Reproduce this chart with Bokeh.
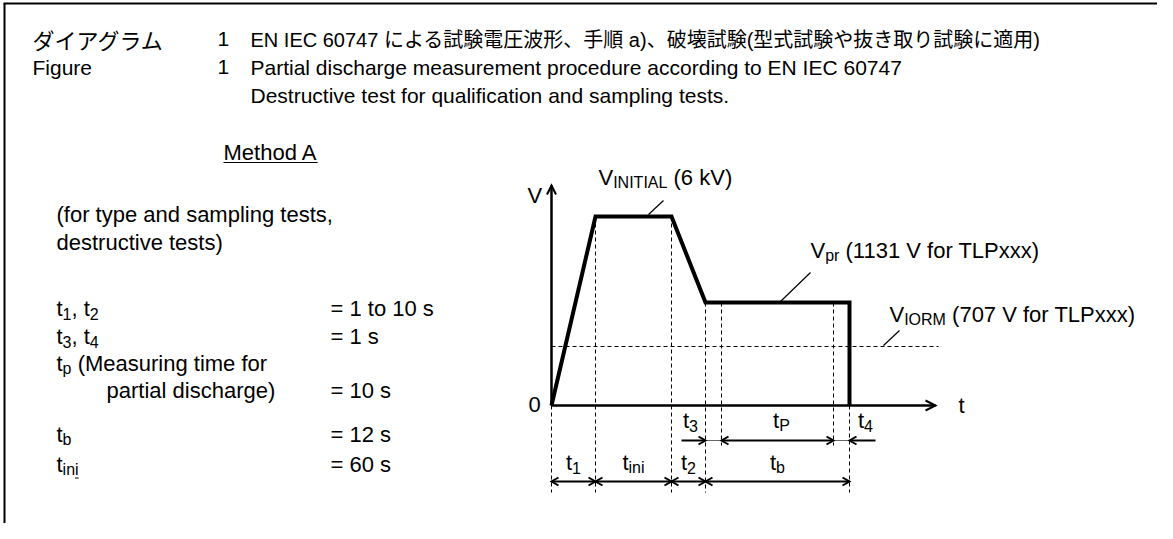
import numpy as np
from bokeh.plotting import figure
from bokeh.models import Range1d
from bokeh.core.properties import value
from bokeh.embed import file_html
from bokeh.resources import INLINE

# ---------------- data (texts and schematic values) ----------------
header_jp_label = "ダイアグラム"
header_en_label = "Figure"
figure_number = "1"
title_jp = "EN IEC 60747 による試験電圧波形、手順 a)、破壊試験(型式試験や抜き取り試験に適用)"
title_en = "Partial discharge measurement procedure according to EN IEC 60747"
subtitle_en = "Destructive test for qualification and sampling tests."
method_label = "Method A"
method_note = ["(for type and sampling tests,", "destructive tests)"]

# parameter list: label runs (text, is_subscript) and values
param_runs = [
    [("t", 0), ("1", 1), (", t", 0), ("2", 1)],
    [("t", 0), ("3", 1), (", t", 0), ("4", 1)],
    [("t", 0), ("p", 1), (" (Measuring time for", 0)],
    [("partial discharge)", 0)],
    [("t", 0), ("b", 1)],
    [("t", 0), ("ini", 1)],
]
param_values = ["= 1 to 10 s", "= 1 s", "", "= 10 s", "= 12 s", "= 60 s"]

# schematic waveform: phase durations and voltage levels as drawn (diagram units)
phase_names = ["t1", "tini", "t2", "t3", "tp", "t4"]
phase_durations = [44, 76, 34, 16, 112, 16]
level_names = ["V_INITIAL", "V_pr", "V_IORM"]
level_values = [189, 103, 59]
level_label_runs = [
    [("V", 0), ("INITIAL", 1), (" (6 kV)", 0)],
    [("V", 0), ("pr", 1), (" (1131 V for TLPxxx)", 0)],
    [("V", 0), ("IORM", 1), (" (707 V for TLPxxx)", 0)],
]
phase_label_runs = {
    "t1": [("t", 0), ("1", 1)],
    "tini": [("t", 0), ("ini", 1)],
    "t2": [("t", 0), ("2", 1)],
    "t3": [("t", 0), ("3", 1)],
    "tp": [("t", 0), ("P", 1)],
    "t4": [("t", 0), ("4", 1)],
    "tb": [("t", 0), ("b", 1)],
}

# ---------------- layout helpers ----------------
LATIN = "Liberation Sans"
CJK = "Noto Sans CJK JP"
MIXED = "Liberation Sans, Noto Sans CJK JP"
HEAD = 21
SIZE = 22
SUB = 16
DROP = 3

ORIGIN = (551, 405)  # where the diagram origin sits in the picture (px)
WIDTH, HEIGHT = 1157, 523


def S(sx, sy):
    return sx - ORIGIN[0], ORIGIN[1] - sy


W = {' ': 278, '(': 333, ')': 333, ',': 278, '.': 278, '=': 584, '-': 333}
for ch in "0123456789":
    W[ch] = 556
W.update(dict(zip("ABCDEFGHIJKLMNOPQRSTUVWXYZ",
                  [667, 667, 722, 722, 667, 611, 778, 722, 278, 500, 667, 556, 833,
                   722, 778, 667, 778, 722, 667, 611, 722, 667, 944, 667, 667, 611])))
W.update(dict(zip("abcdefghijklmnopqrstuvwxyz",
                  [556, 556, 500, 556, 556, 278, 556, 556, 222, 222, 500, 222, 833,
                   556, 556, 556, 556, 333, 500, 278, 556, 500, 722, 500, 500, 500])))


def tw(s, size):
    return sum(W.get(c, 556) for c in s) * size / 1000.0


def runs_width(runs, size=SIZE, sub=SUB):
    return sum(tw(t, sub if s else size) for t, s in runs)


p = figure(width=WIDTH, height=HEIGHT, output_backend="svg", toolbar_location=None,
           x_range=Range1d(0 - ORIGIN[0], WIDTH - ORIGIN[0]),
           y_range=Range1d(ORIGIN[1] - HEIGHT, ORIGIN[1] - 0),
           x_axis_type=None, y_axis_type=None, min_border=0,
           min_border_left=0, min_border_right=0, min_border_top=0, min_border_bottom=0)
p.xgrid.visible = False
p.ygrid.visible = False
p.outline_line_color = None
p.background_fill_color = "white"
p.border_fill_color = "white"


def put(x, y, s, size=SIZE, font=LATIN, align="left"):
    """x, y: data coords of the left end of the text baseline."""
    p.text(x=[x], y=[y + 0.35 * size], text=[s], text_font=value(font),
           text_font_size=f"{size}px", text_baseline="middle", text_align=align,
           text_color="black")


def put_runs(x, y, runs, size=SIZE, sub=SUB):
    for t, is_sub in runs:
        fs = sub if is_sub else size
        body = t.lstrip(" ")
        x += tw(t[:len(t) - len(body)], fs)
        put(x, y - (DROP if is_sub else 0), body, fs)
        x += tw(body, fs)
    return x


# ---------------- frame ----------------
p.line(x=[3 - ORIGIN[0], WIDTH - ORIGIN[0]], y=[ORIGIN[1] - 3] * 2, line_color="black", line_width=2.2)
p.line(x=[4 - ORIGIN[0]] * 2, y=[ORIGIN[1] - 3, ORIGIN[1] - HEIGHT], line_color="black", line_width=2)

# ---------------- header ----------------
put(*S(32, 46), header_jp_label, 22, CJK)
put(*S(217, 46), figure_number, HEAD)
put(*S(250, 46), title_jp, 20, MIXED)
put(*S(32, 74), header_en_label, HEAD)
put(*S(217, 74), figure_number, HEAD)
put(*S(250, 74), title_en, HEAD)
put(*S(250, 102), subtitle_en, HEAD)

# ---------------- left column ----------------
mx, my = S(223, 159.5)
put(mx, my, method_label)
p.line(x=[mx, mx + tw(method_label, SIZE)], y=[my - 2.5] * 2, line_color="black", line_width=1.2)
for i, line in enumerate(method_note):
    put(*S(56, 222 + 28 * i), line)

param_baselines = [316, 344, 371, 398, 442, 472]
for runs, val, by in zip(param_runs, param_values, param_baselines):
    lx = 106 if runs[0][0].startswith("partial") else 56
    x0, y0 = S(lx, by)
    put_runs(x0, y0, runs)
    if val:
        put(*S(330, by), val)
    if runs[-1][0] == "ini":
        ux = x0 + tw("t", SIZE) + tw("in", SUB)
        p.line(x=[ux, ux + tw("i", SUB)], y=[y0 - DROP - 2.5] * 2, line_color="black", line_width=1)

# ---------------- diagram ----------------
T = np.concatenate([[0], np.cumsum(phase_durations)])
Vi, Vpr, Viorm = level_values

# waveform
wave_x = [T[0], T[1], T[2], T[3], T[6], T[6]]
wave_y = [0, Vi, Vi, Vpr, Vpr, 0]

V_TOP = 220
T_END = 384
ROW1 = -35
ROW2 = -76
DASH_LOW = -87
DASH_SHORT = -40

# dashed guides
dash_x = [T[0], T[1], T[2], T[3], T[4], T[5], T[6]]
dash_top = [0, Vi, Vi, Vpr, Vpr, Vpr, 0]
dash_bot = [DASH_LOW, DASH_LOW, DASH_LOW, DASH_LOW, DASH_SHORT, DASH_SHORT, DASH_LOW]
p.multi_line(xs=[[x, x] for x in dash_x], ys=[[a, b] for a, b in zip(dash_top, dash_bot)],
             line_color="black", line_width=1, line_dash="4 3")
p.line(x=[0, 387], y=[Viorm, Viorm], line_color="black", line_width=1, line_dash="4 3")

# axes
p.line(x=[0, 0], y=[0, V_TOP], line_color="black", line_width=2.5)
p.line(x=[0, T_END], y=[0, 0], line_color="black", line_width=2.5)

heads_xs, heads_ys = [], []


def head(x, y, d, L=7, H=4):
    if d == "r":
        heads_xs.append([x - L, x, x - L]); heads_ys.append([y + H, y, y - H])
    elif d == "l":
        heads_xs.append([x + L, x, x + L]); heads_ys.append([y + H, y, y - H])
    elif d == "u":
        heads_xs.append([x - H, x, x + H]); heads_ys.append([y - L, y, y - L])


head(0, V_TOP, "u", 9, 4.5)
head(T_END, 0, "r", 10, 5)

# waveform on top
p.line(x=wave_x, y=wave_y, line_color="black", line_width=4, line_join="miter")

# dimension arrows
dim_xs, dim_ys = [], []
for a, b in [(T[0], T[1]), (T[1], T[2]), (T[2], T[3]), (T[3], T[6])]:
    dim_xs.append([a, b]); dim_ys.append([ROW2, ROW2])
    head(a, ROW2, "l"); head(b, ROW2, "r")
# row 1: t3 incoming, tp double, t4 incoming
dim_xs.append([T[3] - 24, T[3]]); dim_ys.append([ROW1, ROW1]); head(T[3], ROW1, "r")
dim_xs.append([T[4], T[5]]); dim_ys.append([ROW1, ROW1]); head(T[4], ROW1, "l"); head(T[5], ROW1, "r")
dim_xs.append([T[6], T[6] + 26]); dim_ys.append([ROW1, ROW1]); head(T[6], ROW1, "l")
p.multi_line(xs=dim_xs, ys=dim_ys, line_color="black", line_width=2)
p.multi_line(xs=[[T[3], T[4]], [T[5], T[6]]], ys=[[ROW1, ROW1], [ROW1, ROW1]],
             line_color="#666666", line_width=1)
p.multi_line(xs=heads_xs, ys=heads_ys, line_color="black", line_width=2, line_join="miter")

# leaders
lead = [((663, 200), (648, 214)), ((810, 272), (780, 301)), ((899, 330), (883, 345))]
p.multi_line(xs=[[S(*a)[0], S(*b)[0]] for a, b in lead], ys=[[S(*a)[1], S(*b)[1]] for a, b in lead],
             line_color="black", line_width=1.2)

# axis labels
put(*S(527, 203), "V")
put(*S(528, 411.7), "0")
put(*S(958, 413), "t")

# level labels
level_pos = [(598, 185), (810, 258), (889, 321.7)]
for runs, (sx, sy) in zip(level_label_runs, level_pos):
    put_runs(*S(sx, sy), runs)

# phase labels (centred in their segment; t3 / t4 placed beside their short span)
ROW1_LBL = ORIGIN[1] - 428
ROW2_LBL = ORIGIN[1] - 470
centers2 = {"t1": (T[0] + T[1]) / 2, "tini": (T[1] + T[2]) / 2, "t2": (T[2] + T[3]) / 2,
            "tb": (T[3] + T[6]) / 2}
for k, c in centers2.items():
    r = phase_label_runs[k]
    put_runs(c - runs_width(r) / 2, ROW2_LBL, r)
centers1 = {"t3": T[3] - 15, "tp": (T[4] + T[5]) / 2 + 4, "t4": T[6] + 16}
for k, c in centers1.items():
    r = phase_label_runs[k]
    put_runs(c - runs_width(r) / 2, ROW1_LBL, r)

open("out.html", "w").write(file_html(p, INLINE))
